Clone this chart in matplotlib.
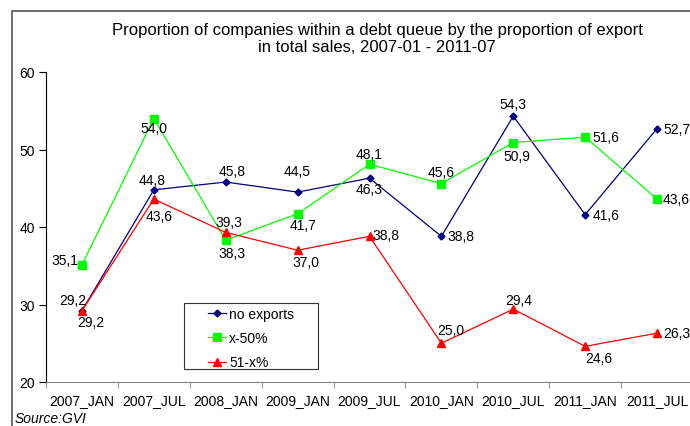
import matplotlib
matplotlib.use("Agg")
import matplotlib.pyplot as plt
from matplotlib.patches import Rectangle

plt.rcParams['font.family'] = ['Liberation Sans', 'DejaVu Sans']

# data
periods = ["2007_JAN", "2007_JUL", "2008_JAN", "2009_JAN", "2009_JUL",
           "2010_JAN", "2010_JUL", "2011_JAN", "2011_JUL"]
no_exports = [29.2, 44.8, 45.8, 44.5, 46.3, 38.8, 54.3, 41.6, 52.7]
x_50 = [35.1, 54.0, 38.3, 41.7, 48.1, 45.6, 50.9, 51.6, 43.6]
x51_x = [29.2, 43.6, 39.3, 37.0, 38.8, 25.0, 29.4, 24.6, 26.3]

# label placement (offset in pixels, horizontal alignment)
pos_no = [(4, 11, 'right'), (-2, 10, 'center'), (6, 11, 'center'), (0, 21, 'center'),
          (0, -11, 'center'), (6, 0, 'left'), (0, 12, 'center'), (7, 0, 'left'), (6, 0, 'left')]
pos_x50 = [(-4, 5, 'right'), (0, -10, 'center'), (6, -13, 'center'), (5, -11, 'center'),
           (0, 10, 'center'), (0, 12, 'center'), (4, -13, 'center'), (7, 0, 'left'), (6, 0, 'left')]
pos_51 = [(9, -11, 'center'), (5, -17, 'center'), (3, 10, 'center'), (8, -12, 'center'),
          (3, 1, 'left'), (9, 13, 'center'), (5, 9, 'center'), (14, -12, 'center'), (6, 0, 'left')]

fig = plt.figure(figsize=(6.9, 4.27), dpi=100)
fig.patches.append(Rectangle((12 / 690, -0.1), 1.2, 1 - 12 / 427 + 0.1,
                             transform=fig.transFigure, fill=False,
                             edgecolor='#555555', linewidth=1.2))

ax = fig.add_axes([46 / 690, 1 - 383 / 427, 647 / 690, 310 / 427])
x = range(len(periods))

series = [(no_exports, "no exports", '#000080', 'D', 3.5, pos_no),
          (x_50, "x-50%", '#00FF00', 's', 5.5, pos_x50),
          (x51_x, "51-x%", '#FF0000', '^', 5.5, pos_51)]

for vals, name, col, mk, ms, pos in series:
    ax.plot(x, vals, color=col, marker=mk, markersize=ms, linewidth=0.9, label=name)
    for i, v in enumerate(vals):
        dx, dy, ha = pos[i]
        ax.annotate(f"{v:.1f}".replace('.', ','), (i, v), xytext=(dx, dy),
                    textcoords='offset pixels', ha=ha, va='center', fontsize=10)

ax.set_xlim(-0.5, len(periods) - 0.5)
ax.set_ylim(20, 60)
ax.set_yticks([20, 30, 40, 50, 60])
ax.set_xticks(list(x))
ax.set_xticklabels(periods)
ax.set_xticks([i + 0.5 for i in range(-1, len(periods))], minor=True)
ax.tick_params(axis='x', which='major', length=0, pad=8, labelsize=10)
ax.tick_params(axis='x', which='minor', length=4, color='#808080')
ax.tick_params(axis='y', length=5, pad=3, labelsize=10)
ax.spines['top'].set_visible(False)
ax.spines['right'].set_visible(False)
ax.spines['bottom'].set_color('#808080')
ax.spines['left'].set_color('black')

# legend: frame drawn separately so the box can be wider than its content
ax.legend(loc='center', bbox_to_anchor=(0.317, 0.142), fontsize=10, frameon=False,
          handlelength=1.3, handletextpad=0.2, labelspacing=0.75, borderaxespad=0)
ax.add_patch(Rectangle((0.2133, 0.0419), 0.2071, 0.2129, transform=ax.transAxes,
                       fill=False, edgecolor='#333333', linewidth=0.8, zorder=5))

fig.text(377 / 690, 1 - 30 / 427, "Proportion of companies within a debt queue by the proportion of export",
         ha='center', va='center', fontsize=12)
fig.text(377 / 690, 1 - 48 / 427, "in total sales, 2007-01 - 2011-07",
         ha='center', va='center', fontsize=12)
fig.text(15 / 690, 1 - 426 / 427, "Source:GVI", ha='left', va='bottom',
         fontsize=10, style='italic')

fig.savefig("out.png", dpi=100)
